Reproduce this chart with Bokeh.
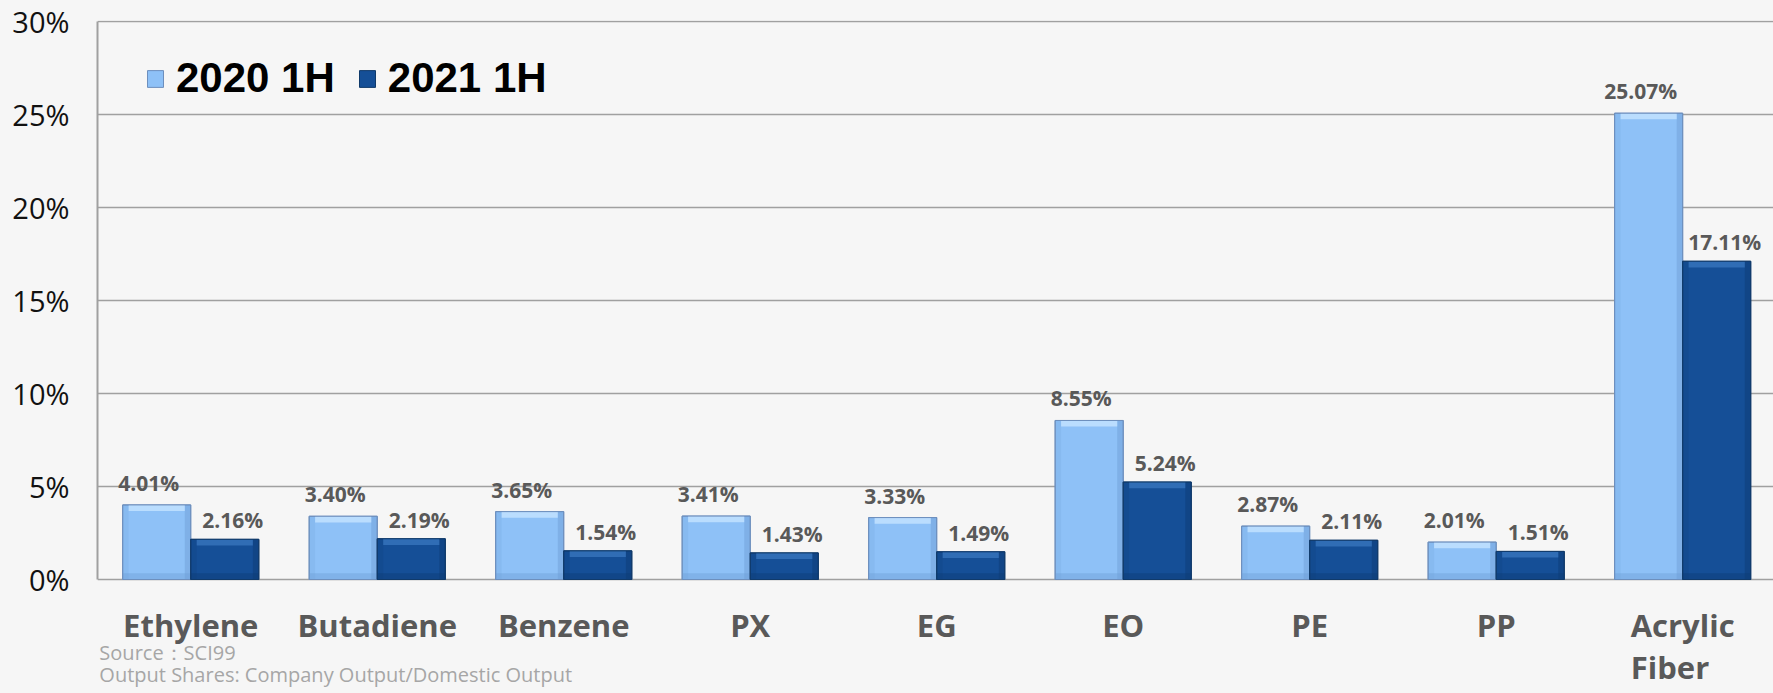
import numpy as np
from bokeh.plotting import figure
from bokeh.models import (ColumnDataSource, Range1d, FixedTicker, PrintfTickFormatter,
                          Legend, LegendItem, LabelSet, Label)
from bokeh.core.properties import value
from bokeh.embed import file_html
from bokeh.resources import INLINE

# ---- data ----
categories = ["Ethylene", "Butadiene", "Benzene", "PX", "EG", "EO", "PE", "PP", "Acrylic Fiber"]
tick_labels = ["Ethylene", "Butadiene", "Benzene", "PX", "EG", "EO", "PE", "PP", "Acrylic\nFiber"]
series_names = ["2020 1H", "2021 1H"]
values_2020 = [4.01, 3.40, 3.65, 3.41, 3.33, 8.55, 2.87, 2.01, 25.07]
values_2021 = [2.16, 2.19, 1.54, 1.43, 1.49, 5.24, 2.11, 1.51, 17.11]
y_ticks = [0, 5, 10, 15, 20, 25, 30]
source_note = "Source：SCI99"
note_line = "Output Shares: Company Output/Domestic Output"

# ---- styling ----
BG = "#f6f6f6"
LIGHT, LIGHT_TOP, LIGHT_SIDE, LIGHT_EDGE = "#8ec1f7", "#c2e2ff", "#6f9fd8", "#6d8fbd"
DARK, DARK_TOP, DARK_SIDE, DARK_EDGE = "#154f97", "#3572ba", "#0d3b76", "#103a6a"
GRID = "#a0a0a0"
LABEL_GRAY = "#595959"
NOTE_GRAY = "#a6a6a6"

W, H = 1773, 693
BAR_W = 0.365
n = len(categories)
xi = np.arange(n, dtype=float)

# frame spans down to the bottom edge so the category labels and notes can sit in it
p = figure(width=W, height=H, output_backend="svg", toolbar_location=None,
           x_range=Range1d(-0.5, 8.487), y_range=Range1d(-6.129, 30.054),
           x_axis_location=None,
           min_border_left=97, min_border_right=0, min_border_top=20, min_border_bottom=0,
           background_fill_color=BG, border_fill_color=BG, outline_line_color=None)

bevel_y = 0.33   # in % units
bevel_x = 0.032  # in category units

renderers = []
for k, (vals, main, top, side, edge, shift) in enumerate([
        (values_2020, LIGHT, LIGHT_TOP, LIGHT_SIDE, LIGHT_EDGE, -BAR_W / 2),
        (values_2021, DARK, DARK_TOP, DARK_SIDE, DARK_EDGE, BAR_W / 2)]):
    v = np.array(vals)
    xc = xi + shift
    src = ColumnDataSource(dict(x=xc, top=v, cat=categories))
    r = p.vbar(x="x", top="top", bottom=0, width=BAR_W, source=src,
               fill_color=main, line_color=edge, line_width=1)
    renderers.append(r)
    # bevel shading: right side, left side, bottom, top highlight
    p.vbar(x=xc + BAR_W / 2 - bevel_x / 2, width=bevel_x, bottom=0, top=v,
           fill_color=side, fill_alpha=0.5, line_color=None)
    p.vbar(x=xc - BAR_W / 2 + bevel_x / 2, width=bevel_x, bottom=0, top=v,
           fill_color=side, fill_alpha=0.2, line_color=None)
    p.vbar(x=xc, width=BAR_W, bottom=0, top=np.minimum(bevel_y, v * 0.3),
           fill_color=side, fill_alpha=0.45, line_color=None)
    p.vbar(x=xc, width=BAR_W - 2 * bevel_x, bottom=v - bevel_y, top=v,
           fill_color=top, fill_alpha=0.85, line_color=None)
    p.vbar(x="x", top="top", bottom=0, width=BAR_W, source=src,
           fill_alpha=0, line_color=edge, line_width=1)

    lab_src = ColumnDataSource(dict(x=xc, y=v, t=["%.2f%%" % a for a in v]))
    p.add_layout(LabelSet(x="x", y="y", text="t", source=lab_src,
                          x_offset=-8 if k == 0 else 8, y_offset=22 if k == 0 else 19,
                          text_align="center", text_baseline="middle",
                          text_font=value("Open Sans"), text_font_style="bold",
                          text_font_size="21px", text_color=LABEL_GRAY))

# ---- category labels under the baseline ----
cat_src = ColumnDataSource(dict(x=xi, y=np.zeros(n), t=tick_labels))
p.add_layout(LabelSet(x="x", y="y", text="t", source=cat_src, y_offset=-24,
                      text_align="center", text_baseline="top",
                      text_font=value("Open Sans"), text_font_style="bold",
                      text_font_size="31px", text_color=LABEL_GRAY,
                      text_line_height=1.0))

# ---- y axis & grid ----
p.xgrid.grid_line_color = None
p.ygrid.ticker = FixedTicker(ticks=y_ticks)
p.ygrid.grid_line_color = GRID
p.ygrid.grid_line_width = 1.6

p.yaxis.ticker = FixedTicker(ticks=y_ticks)
p.yaxis.bounds = (0, 30)
p.yaxis.formatter = PrintfTickFormatter(format="%d%%")
p.yaxis.major_tick_line_color = None
p.yaxis.minor_tick_line_color = None
p.yaxis.axis_line_color = GRID
p.yaxis.axis_line_width = 2
p.yaxis.major_label_text_font = "Open Sans"
p.yaxis.major_label_text_font_size = "29px"
p.yaxis.major_label_text_color = "#111111"
p.yaxis.major_label_standoff = 22

# ---- legend ----
legend = Legend(items=[LegendItem(label=series_names[0], renderers=[renderers[0]]),
                       LegendItem(label=series_names[1], renderers=[renderers[1]])],
                orientation="horizontal", location=(48, 591),
                glyph_width=20, glyph_height=21, label_standoff=11, spacing=22,
                padding=0, margin=0, border_line_alpha=0, background_fill_alpha=0,
                label_text_font="Liberation Sans", label_text_font_style="bold",
                label_text_font_size="42px", label_text_color="black")
p.add_layout(legend)

# ---- source notes ----
p.add_layout(Label(x=-0.49, y=-3.95, text=source_note,
                   text_font="Open Sans", text_font_size="20px", text_color=NOTE_GRAY,
                   text_baseline="middle"))
p.add_layout(Label(x=-0.49, y=-5.1, text=note_line,
                   text_font="Open Sans", text_font_size="20px", text_color=NOTE_GRAY,
                   text_baseline="middle"))

html = file_html(p, INLINE)
style = ("<style>html, body { margin: 0 !important; padding: 0 !important; "
         "overflow: hidden; background-color: %s; }</style>" % BG)
html = html.replace("</head>", style + "</head>", 1)
open("out.html", "w").write(html)
